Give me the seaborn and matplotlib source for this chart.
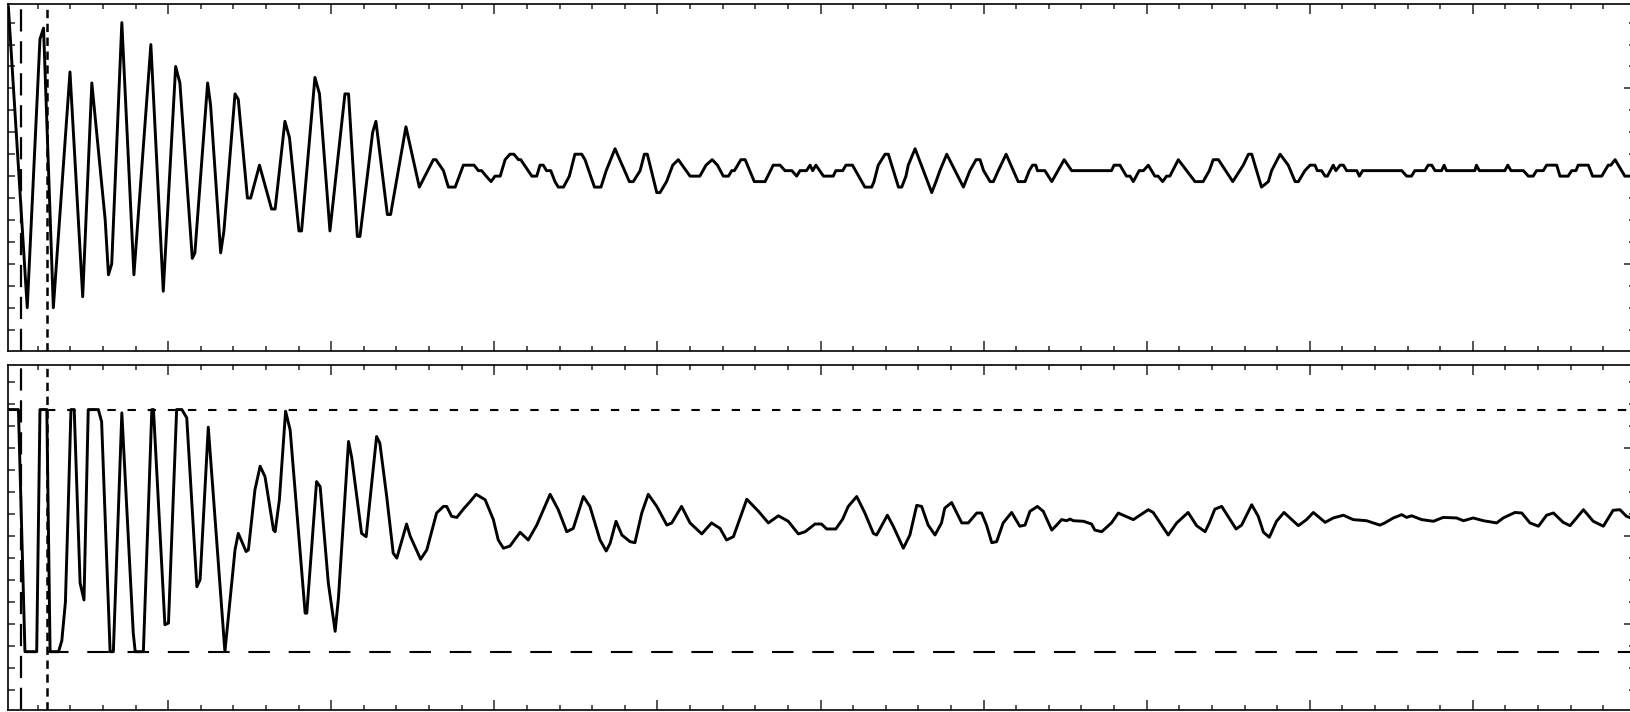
import matplotlib
matplotlib.use("Agg")
import matplotlib.pyplot as plt
import pandas as pd
import seaborn as sns
from matplotlib.ticker import MultipleLocator

sns.set_style("ticks")
plt.rcParams["lines.scale_dashes"] = False
plt.rcParams["lines.solid_joinstyle"] = "round"
plt.rcParams["lines.solid_capstyle"] = "round"

# Raw ADC trace (sample index, counts) - vertices of the recorded waveform
top_trace = [
    (1.0, 31), (6.8, -24), (10.7, 25), (11.8, 27), (14.8, -24), (19.9, 19), (23.8, -22),
    (26.6, 17), (30.7, -8), (31.7, -18), (32.7, -16), (35.8, 28), (39.5, -18), (44.7, 24),
    (48.5, -21), (52.3, 20), (53.6, 17), (57.4, -15), (58.2, -14), (62.1, 17), (63.0, 13),
    (66.1, -14), (67.1, -10), (70.5, 15), (71.5, 14), (74.3, -4), (75.3, -4), (78.0, 2),
    (81.7, -6), (82.8, -6), (85.8, 10), (87.2, 7), (90.1, -10), (90.9, -10), (95.0, 18),
    (96.4, 15), (99.6, -10), (104.2, 15), (105.3, 15), (108.0, -11), (108.8, -11),
    (112.7, 8), (113.7, 10), (117.2, -7), (118.2, -7), (122.9, 9), (127.0, -2), (131.3, 3),
    (132.1, 3), (134.4, 1), (135.9, -2), (138.0, -2), (140.5, 2), (143.8, 2), (145.1, 1),
    (146.1, 1), (147.5, 0), (149.0, -1), (150.2, 0), (151.8, 0), (153.3, 3), (154.8, 4),
    (156.0, 4), (157.4, 3), (158.1, 3), (161.5, 0), (163.0, 0), (164.0, 2), (165.0, 2),
    (166.0, 1), (167.3, 1), (168.6, -1), (169.6, -2), (171.2, -2), (173.0, 0), (174.7, 4),
    (176.8, 4), (177.8, 3), (180.7, -2), (182.7, -2), (184.3, 1), (187.0, 5), (191.4, -1),
    (192.6, -1), (194.7, 1), (196.0, 4), (196.9, 4), (199.8, -3), (200.8, -3), (202.8, -1),
    (204.7, 2), (206.4, 3), (210.0, 0), (213.0, 0), (214.9, 2), (216.8, 3), (218.4, 2),
    (220.2, 0), (221.8, 0), (222.8, 1), (223.6, 1), (225.6, 3), (226.9, 3), (229.7, -1),
    (233.0, -1), (235.5, 2), (237.6, 2), (239.1, 1), (241.2, 1), (242.7, 0), (243.7, 1),
    (245.7, 1), (246.8, 2), (247.6, 1), (248.6, 2), (250.9, 0), (253.9, 0), (254.7, 1),
    (256.8, 1), (257.8, 2), (259.8, 2), (263.6, -2), (265.7, -2), (266.4, -1), (267.7, 2),
    (269.8, 4), (270.8, 4), (273.9, -2), (274.9, -2), (276.2, 0), (276.9, 2), (279.0, 5),
    (284.1, -3), (285.4, -1), (286.6, 1), (288.7, 4), (293.8, -2), (295.8, 1), (297.7, 3),
    (298.9, 3), (300.0, 1), (302.0, -1), (303.0, -1), (304.5, 1), (306.9, 4), (310.6, -1),
    (312.7, -1), (314.0, 1), (315.0, 2), (316.0, 2), (316.5, 1), (318.8, 1), (320.9, -1),
    (324.7, 3), (327.0, 1), (339.2, 1), (340.0, 2), (341.8, 2), (343.8, 0), (344.9, 0),
    (345.9, -1), (347.7, 1), (349.0, 1), (350.5, 2), (352.5, 0), (353.5, 0), (354.9, -1),
    (356.1, 0), (357.1, 0), (359.7, 3), (364.8, -1), (367.3, -1), (369.2, 1), (370.4, 3),
    (372.0, 3), (376.4, -1), (379.6, 2), (381.2, 4), (382.2, 4), (385.2, -2), (387.3, -1),
    (388.3, 1), (390.9, 4), (393.4, 2), (395.5, -1), (396.5, -1), (398.5, 1), (400.1, 2),
    (401.6, 2), (402.3, 1), (403.6, 1), (404.7, 0), (405.4, 0), (407.2, 2), (408.0, 1),
    (409.3, 2), (410.3, 2), (411.3, 1), (414.4, 1), (415.2, 0), (416.2, 1), (428.2, 1),
    (429.7, 0), (431.2, 0), (432.2, 1), (435.3, 1), (436.3, 2), (437.4, 2), (438.4, 1),
    (440.4, 1), (441.2, 2), (441.9, 1), (450.6, 1), (451.1, 2), (452.0, 1), (459.8, 1),
    (460.7, 2), (461.7, 1), (465.5, 1), (467.0, 0), (468.5, 0), (469.5, 1), (471.6, 1),
    (472.6, 2), (475.7, 2), (476.7, 0), (479.2, 0), (480.3, 1), (481.6, 1), (482.3, 2),
    (485.4, 2), (486.7, 0), (489.5, 0), (491.5, 2), (492.3, 2), (493.6, 3), (496.6, 0),
    (498.5, 0),
]

# Clipped / filtered trace (sample index, counts)
bottom_trace = [
    (1.0, 23), (4.1, 23), (6.1, -21), (9.7, -21), (10.7, 23), (12.8, 23), (13.8, -21),
    (16.4, -21), (17.4, -19), (18.5, -12), (19.4, 6), (20.2, 23), (21.2, 23), (23.0, -8.5),
    (24.2, -11.6), (25.5, 23), (28.6, 23), (29.6, 20.8), (32.2, -21), (33.2, -21),
    (35.8, 22.4), (39.3, -17.6), (39.9, -21), (42.4, -21), (45.0, 23), (45.5, 23),
    (49.0, -16.1), (50.1, -15.8), (52.6, 23), (54.2, 23), (55.7, 21.5), (58.8, -9.2),
    (59.8, -7.9), (62.3, 19.8), (67.4, -21), (70.5, -2.5), (71.5, 0.5), (73.9, -2.8),
    (74.6, -2.5), (76.6, 8.4), (78.2, 12.7), (79.7, 10.8), (82.3, 1.1), (82.8, 0.8),
    (84.1, 6.6), (86.0, 22.7), (87.4, 19.3), (92.0, -14), (92.5, -14), (95.5, 9.9),
    (96.6, 9.0), (99.1, -8.5), (101.2, -17.3), (102.2, -11.3), (105.3, 17.2), (106.3, 14.2),
    (109.3, 0.5), (110.7, -0.1), (113.9, 18.1), (114.9, 16.9), (117.0, 7.2), (119.0, -3.1),
    (120.1, -4.0), (123.1, 2.2), (124.2, 0.0), (127.4, -4.2), (129.3, -2.5), (132.3, 4.2),
    (134.4, 5.4), (135.4, 5.4), (136.9, 3.6), (138.5, 3.4), (140.5, 4.9), (142.6, 6.3),
    (144.4, 7.6), (147.2, 6.6), (149.7, 3.0), (151.2, -0.7), (152.8, -2.2), (154.8, -1.8),
    (157.9, 0.7), (160.4, -0.7), (163.0, 2.0), (167.1, 7.6), (169.6, 4.8), (172.2, 0.8),
    (174.2, 1.4), (177.3, 7.2), (179.3, 5.4), (182.4, -0.7), (184.3, -2.7), (185.5, -1.3),
    (187.3, 2.7), (189.1, 0.2), (191.6, -1.0), (193.1, -1.2), (195.2, 4.2), (197.2, 7.6),
    (199.8, 5.4), (202.9, 2.0), (204.4, 2.4), (207.4, 5.4), (210.0, 2.4), (213.6, 0.4),
    (216.6, 2.4), (219.2, 1.4), (221.2, -0.7), (223.3, -0.1), (227.4, 6.7), (231.0, 4.5),
    (234.0, 2.4), (237.1, 3.7), (240.1, 2.7), (243.2, 0.4), (245.3, 0.8), (248.3, 2.2),
    (250.3, 2.2), (251.9, 1.3), (254.7, 1.3), (256.8, 3.1), (258.5, 5.4), (261.1, 7.2),
    (263.6, 4.2), (266.2, 0.5), (267.2, 0.2), (270.5, 3.8), (272.3, 1.8), (275.4, -2.2),
    (277.4, 0.2), (279.5, 5.6), (281.0, 5.4), (283.0, 2.0), (285.1, 0.2), (287.1, 2.4),
    (288.1, 5.1), (290.2, 6.1), (293.3, 2.4), (295.3, 2.4), (297.9, 4.2), (299.4, 4.2),
    (300.9, 2.0), (302.5, -1.2), (304.0, -1.0), (306.0, 2.4), (308.6, 4.3), (311.1, 1.8),
    (312.7, 2.0), (314.2, 4.5), (316.5, 5.4), (318.3, 4.5), (320.9, 1.1), (322.4, 2.0),
    (323.9, 3.0), (325.5, 2.8), (326.5, 3.1), (327.5, 2.8), (330.6, 2.7), (333.1, 2.2),
    (334.1, 1.1), (336.2, 0.8), (339.2, 2.4), (341.3, 4.2), (342.8, 3.8), (345.9, 3.0),
    (350.5, 4.8), (352.0, 4.3), (356.6, 0.2), (359.2, 2.4), (362.7, 4.3), (365.3, 1.9),
    (367.9, 0.8), (369.2, 2.4), (370.9, 4.9), (373.0, 5.4), (377.4, 1.3), (379.1, 2.0),
    (382.2, 5.7), (384.2, 3.6), (385.8, 0.7), (387.6, -0.2), (389.8, 2.7), (392.1, 4.3),
    (396.5, 1.9), (399.0, 3.0), (401.1, 4.3), (404.7, 2.5), (407.2, 3.3), (410.3, 3.8),
    (413.3, 3.0), (417.4, 2.8), (421.5, 2.0), (423.0, 2.4), (425.6, 3.3), (428.2, 3.9),
    (429.7, 3.4), (431.2, 3.7), (434.3, 3.0), (437.9, 2.7), (440.9, 3.4), (445.0, 3.3),
    (447.1, 2.8), (450.1, 3.3), (453.2, 2.8), (457.3, 2.4), (459.3, 3.3), (462.9, 4.3),
    (465.0, 4.2), (467.5, 2.4), (470.1, 1.8), (472.6, 3.8), (474.7, 4.2), (477.7, 2.5),
    (479.8, 1.9), (483.9, 4.8), (486.9, 2.7), (490.0, 1.8), (493.0, 4.7), (495.1, 4.8),
    (497.1, 3.6), (498.5, 3.3),
]

marker_times = [4.8, 12.8]      # window markers (samples)
clip_high = 23                  # upper clipping level (counts)
clip_low = -21                  # lower clipping level (counts)

t_limits = (0.9, 499.4)
top_limits = (-31.9, 31.4)
bottom_limits = (-31.6, 31.1)

W, H = 1631, 712
fig = plt.figure(figsize=(W / 100, H / 100), dpi=100)


def frame(left, top, right, bottom):
    return [left / W, 1 - bottom / H, (right - left) / W, (bottom - top) / H]


ax_top = fig.add_axes(frame(8, 4, 1634, 351))
ax_bot = fig.add_axes(frame(8, 365, 1634, 710))

df_top = pd.DataFrame(top_trace, columns=["t", "v"])
df_bot = pd.DataFrame(bottom_trace, columns=["t", "v"])

sns.lineplot(data=df_top, x="t", y="v", ax=ax_top, color="black", lw=2.1,
             sort=False, estimator=None)
sns.lineplot(data=df_bot, x="t", y="v", ax=ax_bot, color="black", lw=2.1,
             sort=False, estimator=None)

# clipping levels on the lower trace
ax_bot.plot([marker_times[1], t_limits[1]], [clip_high, clip_high], color="black",
            lw=1.5, dashes=(6, 8.5))
ax_bot.plot([marker_times[1], t_limits[1]], [clip_low, clip_low], color="black",
            lw=1.5, dashes=(15.5, 13.5))

for ax, ylim in ((ax_top, top_limits), (ax_bot, bottom_limits)):
    ax.axvline(marker_times[0], color="black", lw=1.6, dashes=(16, 7))
    ax.axvline(marker_times[1], color="black", lw=1.8, dashes=(6, 4))
    ax.set_xlim(*t_limits)
    ax.set_ylim(*ylim)
    ax.set_xlabel("")
    ax.set_ylabel("")
    ax.xaxis.set_major_locator(MultipleLocator(50))
    ax.xaxis.set_minor_locator(MultipleLocator(10))
    ax.yaxis.set_major_locator(MultipleLocator(16))
    ax.yaxis.set_minor_locator(MultipleLocator(4))
    ax.tick_params(axis="x", which="both", direction="in", top=True, bottom=True,
                   labelbottom=False, labeltop=False, width=1.1)
    ax.tick_params(axis="x", which="major", length=7.2)
    ax.tick_params(axis="x", which="minor", length=3.6)
    ax.tick_params(axis="y", which="both", direction="in", left=True, right=False,
                   labelleft=False, length=5, width=1.1)
    for s in ax.spines.values():
        s.set_linewidth(1.2)
        s.set_color("black")
    sec = ax.secondary_yaxis("right")
    sec.yaxis.set_major_locator(MultipleLocator(16))
    sec.yaxis.set_minor_locator(MultipleLocator(4))
    sec.tick_params(axis="y", which="both", direction="in", labelright=False, width=1.1)
    sec.tick_params(axis="y", which="major", length=7.2)
    sec.tick_params(axis="y", which="minor", length=3.6)

fig.savefig("out.png", dpi=100)
